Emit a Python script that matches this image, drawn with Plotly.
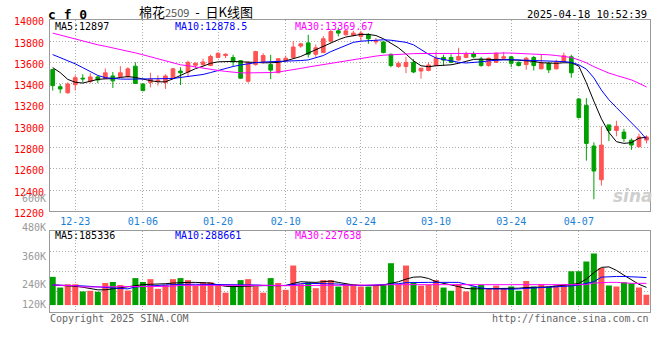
import plotly.graph_objects as go

# ---------------- data ----------------
DATES = ["12-18","12-19","12-20","12-23","12-24","12-25","12-26","12-27","12-30","12-31",
         "01-02","01-03","01-06","01-07","01-08","01-09","01-10","01-13","01-14","01-15",
         "01-16","01-17","01-20","01-21","01-22","01-23","01-24","01-27","02-05","02-06",
         "02-07","02-10","02-11","02-12","02-13","02-14","02-17","02-18","02-19","02-20",
         "02-21","02-24","02-25","02-26","02-27","02-28","03-03","03-04","03-05","03-06",
         "03-07","03-10","03-11","03-12","03-13","03-14","03-17","03-18","03-19","03-20",
         "03-21","03-24","03-25","03-26","03-27","03-28","03-31","04-01","04-02","04-03",
         "04-07","04-08","04-09","04-10","04-11","04-14","04-15","04-16","04-17","04-18"]

OPEN = [13534,13372,13315,13391,13452,13421,13464,13452,13473,13467,
        13467,13565,13397,13412,13421,13412,13452,13519,13510,13574,
        13580,13571,13647,13665,13647,13617,13423,13580,13610,13580,
        13503,13617,13647,13754,13784,13677,13693,13800,13897,13860,
        13855,13845,13860,13793,13793,13677,13562,13562,13601,13519,
        13525,13571,13647,13647,13622,13647,13683,13631,13571,13601,
        13640,13653,13601,13580,13647,13540,13592,13540,13610,13653,
        13256,13196,12814,12497,13013,12961,12945,12869,12808,12870]
HIGH = [13540,13397,13412,13479,13489,13498,13473,13543,13510,13565,
        13555,13601,13403,13503,13479,13489,13549,13555,13617,13601,
        13635,13672,13695,13686,13672,13622,13610,13710,13686,13672,
        13640,13665,13800,13784,13860,13769,13848,13906,13928,13906,
        13897,13897,13876,13830,13800,13683,13610,13653,13631,13546,
        13601,13702,13672,13677,13738,13702,13702,13653,13647,13693,
        13699,13662,13610,13653,13662,13677,13601,13625,13693,13672,
        13265,13265,12848,13000,13013,13052,12976,12885,12930,12915]
LOW = [13336,13311,13305,13336,13412,13406,13406,13443,13360,13457,
       13452,13397,13329,13366,13382,13351,13443,13388,13467,13549,
       13565,13565,13640,13640,13565,13446,13409,13570,13589,13443,
       13503,13610,13640,13738,13647,13653,13690,13784,13845,13855,
       13845,13800,13775,13769,13686,13555,13549,13500,13500,13448,
       13516,13565,13571,13595,13617,13640,13640,13560,13560,13595,
       13631,13555,13562,13531,13525,13535,13500,13535,13604,13457,
       13073,12677,12314,12442,12860,12906,12854,12778,12800,12839]
CLOSE = [13382,13351,13397,13457,13446,13464,13436,13503,13427,13503,
         13540,13403,13336,13443,13434,13473,13540,13503,13601,13592,
         13604,13656,13686,13677,13604,13452,13601,13702,13665,13528,
         13635,13640,13745,13775,13677,13738,13823,13891,13876,13897,
         13876,13876,13823,13805,13693,13571,13592,13601,13510,13546,
         13576,13640,13622,13601,13656,13677,13653,13571,13640,13686,
         13653,13592,13571,13640,13571,13592,13531,13601,13662,13503,
         13082,12839,12579,12823,12961,13000,12885,12823,12900,12900]

MA5 = [13551,13505,13441,13414,13406,13423,13441,13446,13448,13459,
       13467,13459,13441,13429,13418,13418,13446,13478,13514,13542,
       13565,13592,13606,13610,13610,13606,13601,13599,13597,13597,
       13601,13615,13633,13656,13688,13720,13752,13784,13814,13839,
       13855,13864,13864,13853,13823,13784,13738,13679,13615,13569,
       13560,13569,13571,13578,13592,13610,13629,13631,13631,13631,
       13630,13624,13621,13619,13610,13597,13592,13592,13597,13597,
       13565,13409,13235,13070,12942,12855,12839,12846,12888,12897]
MA10 = [13674,13647,13615,13587,13551,13514,13478,13457,13447,13444,
        13443,13443,13443,13444,13445,13446,13449,13459,13469,13479,
        13487,13505,13525,13544,13562,13576,13589,13598,13604,13606,
        13608,13610,13615,13618,13624,13642,13665,13702,13729,13761,
        13789,13800,13805,13810,13813,13809,13801,13789,13766,13720,
        13677,13642,13629,13610,13601,13595,13598,13606,13615,13622,
        13625,13626,13624,13622,13619,13612,13610,13610,13608,13601,
        13578,13537,13455,13340,13249,13176,13107,13037,12961,12878.5]
MA30 = [13876,13857,13839,13821,13802,13784,13766,13752,13738,13725,
        13709,13690,13672,13653,13633,13612,13592,13578,13569,13557,
        13544,13534,13525,13516,13507,13502,13502,13502,13503,13505,
        13510,13519,13532,13544,13557,13569,13580,13592,13604,13617,
        13629,13640,13651,13660,13668,13673,13676,13680,13683,13684,
        13685,13685,13686,13686,13686,13686,13685,13683,13687,13689,
        13689,13688,13686,13683,13682,13678,13672,13665,13656,13647,
        13624,13597,13560,13528,13500,13478,13459,13436,13404,13369.67]

VOLUME = [296000,184000,218000,218000,143000,150000,140000,232000,242000,211000,
          153000,283000,242000,272000,170000,211000,272000,283000,262000,201000,
          239000,239000,211000,130000,204000,262000,272000,194000,130000,283000,
          232000,160000,415000,218000,239000,177000,262000,262000,194000,218000,
          218000,194000,194000,211000,218000,439000,218000,415000,239000,204000,
          211000,262000,184000,150000,218000,143000,194000,211000,170000,204000,
          177000,194000,150000,252000,194000,218000,194000,204000,218000,354000,
          354000,456000,541000,388000,204000,194000,239000,228000,184000,109000]
VMA5 = [211000,207000,204000,197000,187000,170000,160000,160000,170000,180000,
        194000,207000,214000,218000,218000,224000,231000,238000,238000,238000,
        238000,231000,211000,197000,194000,194000,194000,201000,204000,204000,
        204000,204000,228000,245000,241000,238000,245000,252000,238000,224000,
        211000,207000,204000,204000,211000,228000,245000,272000,293000,296000,
        279000,245000,231000,211000,194000,174000,170000,170000,170000,170000,
        177000,177000,177000,184000,184000,184000,190000,201000,207000,214000,
        228000,272000,340000,395000,401000,364000,313000,262000,218000,185336]
VMA10 = [211000,211000,207000,204000,201000,194000,187000,184000,180000,174000,
         170000,190000,197000,204000,207000,211000,214000,218000,218000,218000,
         218000,218000,214000,211000,211000,211000,211000,211000,207000,204000,
         204000,207000,218000,224000,228000,228000,228000,228000,221000,211000,
         207000,204000,207000,211000,214000,218000,224000,235000,238000,238000,
         238000,238000,238000,238000,238000,218000,197000,180000,170000,167000,
         167000,167000,170000,177000,180000,184000,187000,190000,194000,201000,
         211000,224000,245000,293000,300000,300000,300000,300000,293000,288661]
VMA30 = [211000,204000,204000,204000,190000,190000,190000,190000,190000,190000,
         190000,190000,190000,197000,197000,197000,197000,207000,207000,207000,
         207000,214000,214000,214000,214000,207000,207000,207000,207000,207000,
         207000,204000,204000,204000,204000,211000,211000,211000,211000,211000,
         211000,211000,211000,211000,211000,214000,214000,214000,214000,214000,
         214000,214000,214000,214000,214000,214000,214000,214000,214000,214000,
         207000,207000,207000,207000,207000,207000,207000,207000,207000,214000,
         214000,214000,231000,238000,238000,238000,231000,228000,228000,227638]

PRICE_TICKS = [12200,12400,12600,12800,13000,13200,13400,13600,13800,14000]
DATE_TICKS = ["12-23","01-06","01-20","02-10","02-24","03-10","03-24","04-07"]
VOL_TICK_LABELS = ["600K","480K","360K","240K","120K"]
PRICE_MA_TEXT = ["MA5:12897", "MA10:12878.5", "MA30:13369.67"]
VOL_MA_TEXT = ["MA5:185336", "MA10:288661", "MA30:227638"]
TITLE_CODE = "c f 0"
TITLE_NAME = "棉花"
TITLE_CONTRACT = "2509"
TITLE_SUFFIX = "日K线图"
TIMESTAMP = "2025-04-18 10:52:39"
COPYRIGHT = "Copyright 2025 SINA.COM"
URL = "http://finance.sina.com.cn"

# ---------------- styles ----------------
W, H = 660, 360
RED = "#ff5454"
GREEN = "#00a000"
MA_COLORS = ["#000000", "#0000ff", "#ff00ff"]
GRID = "#ababab"
AXIS = "#9a9a9a"
MONO = "DejaVu Sans Mono"

def px(x, y):
    return x / W, 1 - y / H

PLOT_L, PLOT_R = 50, 649.5
PRICE_TOP, PRICE_BOT = 17.4, 214.3
VOL_TOP, VOL_BOT = 234.3, 317.7
VOL_RANGE = [-71400, 779280]

xdom = [PLOT_L / W, PLOT_R / W]
xrange = [-0.36, len(DATES) - 1 + 0.4]

fig = go.Figure()

fig.add_trace(go.Candlestick(
    x=DATES, open=OPEN, high=HIGH, low=LOW, close=CLOSE,
    increasing=dict(line=dict(color=RED, width=1), fillcolor=RED),
    decreasing=dict(line=dict(color=GREEN, width=1), fillcolor=GREEN),
    whiskerwidth=0, hoverinfo="skip", xaxis="x", yaxis="y", showlegend=False))

for vals, col in zip([MA5, MA10, MA30], MA_COLORS):
    fig.add_trace(go.Scatter(x=DATES, y=vals, mode="lines",
                             line=dict(color=col, width=1),
                             hoverinfo="skip", xaxis="x", yaxis="y", showlegend=False))

bar_colors = [RED if c >= o else GREEN for o, c in zip(OPEN, CLOSE)]
fig.add_trace(go.Bar(x=DATES, y=VOLUME, marker=dict(color=bar_colors, line=dict(width=0)),
                     width=0.8, hoverinfo="skip", xaxis="x2", yaxis="y2", showlegend=False))
for vals, col in zip([VMA5, VMA10, VMA30], MA_COLORS):
    fig.add_trace(go.Scatter(x=DATES, y=vals, mode="lines",
                             line=dict(color=col, width=1),
                             hoverinfo="skip", xaxis="x2", yaxis="y2", showlegend=False))

vgrid = [VOL_RANGE[0] + k * (VOL_RANGE[1] - VOL_RANGE[0]) / 4 for k in (1, 2, 3)]

common_x = dict(domain=xdom, type="category", categoryorder="array", categoryarray=DATES,
                range=xrange, tickvals=DATE_TICKS, showgrid=True, gridcolor=GRID,
                griddash="1px,2px", gridwidth=1, showline=True, linecolor=AXIS,
                linewidth=1, mirror=True, ticks="", zeroline=False, fixedrange=True)

fig.update_layout(
    width=W, height=H, margin=dict(l=0, r=0, t=0, b=0),
    paper_bgcolor="white", plot_bgcolor="white", showlegend=False,
    xaxis=dict(common_x, anchor="y", rangeslider=dict(visible=False),
               showticklabels=True, tickfont=dict(family=MONO, size=10, color="#1a7fd6"),
               ticklabelstandoff=1),
    yaxis=dict(domain=[1 - PRICE_BOT / H, 1 - PRICE_TOP / H], anchor="x",
               range=[PRICE_TICKS[0], PRICE_TICKS[-1]], tickvals=PRICE_TICKS,
               ticktext=[str(v) for v in PRICE_TICKS],
               showgrid=True, gridcolor=GRID, griddash="1px,2px", gridwidth=1,
               showline=True, linecolor=AXIS, linewidth=1, mirror=True, ticks="",
               zeroline=False, fixedrange=True,
               tickfont=dict(family=MONO, size=10, color="#ff0000"),
               ticklabelstandoff=3, ticklabelshift=2),
    xaxis2=dict(common_x, anchor="y2", showticklabels=False),
    yaxis2=dict(domain=[1 - VOL_BOT / H, 1 - VOL_TOP / H], anchor="x2",
                range=VOL_RANGE, tickvals=vgrid, showticklabels=False,
                showgrid=True, gridcolor=GRID, griddash="1px,2px", gridwidth=1,
                showline=True, linecolor=AXIS, linewidth=1, mirror=True, ticks="",
                zeroline=False, fixedrange=True),
)

ann = []
def text(x, y, s, color="#000", size=10, anchor="left", family=MONO, **kw):
    xx, yy = px(x, y)
    ann.append(dict(x=xx, y=yy, xref="paper", yref="paper", text=s, showarrow=False,
                    xanchor=anchor, yanchor="middle", font=dict(family=family, size=size, color=color),
                    borderpad=0, **kw))

# header
text(47, 11.5, "<b>" + TITLE_CODE + "</b>", size=13)
text(138, 9, TITLE_NAME + '<span style="font-size:11px;color:#555">' + TITLE_CONTRACT + "</span>"
     + "\u00a0\u00a0-\u00a0\u00a0" + TITLE_SUFFIX, size=13, family="Noto Sans CJK SC")
text(648, 11, TIMESTAMP, size=10.5, anchor="right")

# MA captions
for s, col, x0 in zip(PRICE_MA_TEXT, MA_COLORS, [54, 174, 294]):
    text(x0, 24.5, s, color=col)
for s, col, x0 in zip(VOL_MA_TEXT, MA_COLORS, [54, 174, 294]):
    text(x0, 239, s, color=col)

# volume axis labels (as drawn in the original)
for s, y in zip(VOL_TICK_LABELS, [201, 230.7, 261, 290, 310]):
    text(46.5, y, s, color="#999999", anchor="right")

# footer
text(49, 324.5, COPYRIGHT, color="#666666")
text(650, 324.5, URL, color="#666666", anchor="right")

# watermark
text(633, 199, "<b><i>sina</i></b>", color="#cfcfcf", size=17, anchor="center", family="DejaVu Sans")

fig.update_layout(annotations=ann)

fig.write_html("out.html", config=dict(displayModeBar=False, staticPlot=True),
               post_script="document.body.style.margin='0px';document.body.style.overflow='hidden';")
